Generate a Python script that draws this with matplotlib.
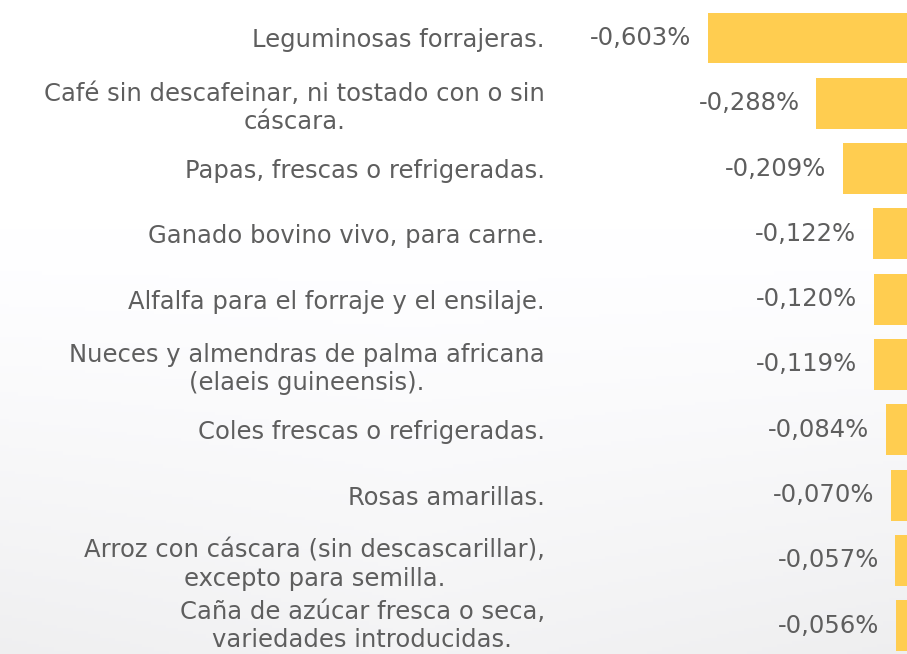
import matplotlib
matplotlib.use("Agg")
import matplotlib.pyplot as plt
import matplotlib.transforms as mtransforms
import numpy as np

categories = [
    "Leguminosas forrajeras.",
    "Café sin descafeinar, ni tostado con o sin\ncáscara.",
    "Papas, frescas o refrigeradas.",
    "Ganado bovino vivo, para carne.",
    "Alfalfa para el forraje y el ensilaje.",
    "Nueces y almendras de palma africana\n(elaeis guineensis).",
    "Coles frescas o refrigeradas.",
    "Rosas amarillas.",
    "Arroz con cáscara (sin descascarillar),\nexcepto para semilla.",
    "Caña de azúcar fresca o seca,\nvariedades introducidas.",
]
values = [-0.603, -0.288, -0.209, -0.122, -0.120, -0.119, -0.084, -0.070, -0.057, -0.056]
value_labels = ["-0,603%", "-0,288%", "-0,209%", "-0,122%", "-0,120%",
                "-0,119%", "-0,084%", "-0,070%", "-0,057%", "-0,056%"]

W, H = 907, 654
fig = plt.figure(figsize=(W / 100, H / 100), dpi=100)
fig.patch.set_facecolor("white")

# subtle light-grey background wash (decorative)
bg = fig.add_axes([0, 0, 1, 1], zorder=-1)
yy = np.linspace(0, 1, 200)[:, None]
xx = np.linspace(0, 1, 300)[None, :]
shade = 1.0 - 0.065 * np.clip((yy - 0.35) / 0.65, 0, 1) ** 1.2 * (0.7 + 0.3 * np.abs(xx - 0.45) / 0.55)
img = np.dstack([shade, shade, shade * 1.005])
bg.imshow(np.clip(img, 0, 1), aspect="auto", extent=[0, 1, 1, 0])
bg.set_axis_off()

ax_left_px = 560
ax = fig.add_axes([ax_left_px / W, 0, (W - ax_left_px) / W, 1])
ax.set_facecolor("none")

scale = 343.0  # px per percent
zero_px = 915.0
xmin = -(zero_px - ax_left_px) / scale
xmax = -(zero_px - W) / scale

pos = list(range(len(values)))
ax.barh(pos, values, height=0.78, color="#FFCD50", left=0)
ax.set_xlim(xmin, xmax)
row_h = 65.3
ax.set_ylim((H - 38) / row_h, -38 / row_h)

textcolor = "#5e5e5e"
fam = ["DejaVu Sans"]
fs = 17.5
for p, v, lab in zip(pos, values, value_labels):
    ax.annotate(lab, xy=(v, p), xytext=(-12, 0), textcoords="offset points",
                ha="right", va="center", fontsize=fs, color=textcolor,
                family=fam)

ax.set_yticks(pos)
ax.set_yticklabels(categories, fontsize=fs, color=textcolor, family=fam,
                   multialignment="center", linespacing=1.22)
ax.tick_params(axis="y", length=0, pad=11)
ticklabels = ax.get_yticklabels()
shift = mtransforms.ScaledTranslation(0, 4 / 100, fig.dpi_scale_trans)
ticklabels[-1].set_transform(ticklabels[-1].get_transform() + shift)
ax.set_xticks([])
for s in ax.spines.values():
    s.set_visible(False)

fig.savefig("out.png", dpi=100, facecolor="white")
